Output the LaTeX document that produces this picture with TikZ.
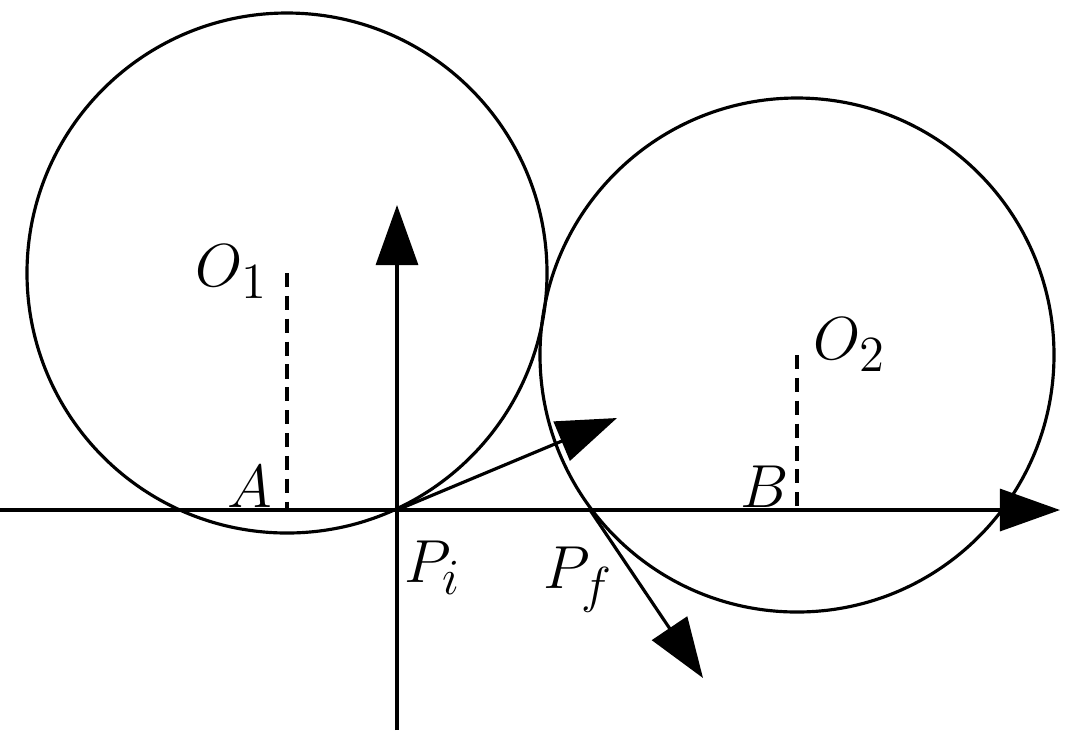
\documentclass[tikz,border=0pt]{standalone}
\usetikzlibrary{arrows.meta}
\tikzset{
  axis/.style={line width=0.9pt,-{Triangle[length=0.6cm,width=0.42cm]}},
  centreline/.style={line width=0.9pt,dash pattern=on 4pt off 2.5pt},
  lbl/.style={font=\fontsize{19}{22}\selectfont}
}
\begin{document}
\begin{tikzpicture}[x=0.01cm,y=-0.01cm]
  \useasboundingbox (0,0) rectangle (1066,744);
  % centres and points
  \coordinate (O1) at (287,273);
  \coordinate (O2) at (797,355);
  \coordinate (A) at (287,510);
  \coordinate (B) at (797,510);
  \coordinate (Pi) at (397,510);
  \coordinate (Pf) at (590,510);
  \coordinate (xl) at (0,510);
  \coordinate (xr) at (1060,510);
  \coordinate (yb) at (397,730);
  \coordinate (yt) at (397,205);
  \coordinate (vi) at (617,418);
  \coordinate (vf) at (703,678);
  % circles
  \draw[line width=0.9pt] (O1) circle (260);
  \draw[line width=0.9pt] (O2) circle (257);
  % axes and velocities
  \draw[axis] (xl) -- (xr);
  \draw[axis] (yb) -- (yt);
  \draw[axis] (Pi) -- (vi);
  \draw[axis] (Pf) -- (vf);
  \draw[centreline] (O1) -- (A);
  \draw[centreline] (O2) -- (B);
  % labels
  \node[lbl] (lO1) at (232,272) {$O_1$};
  \node[lbl] (lO2) at (850,345) {$O_2$};
  \node[lbl] (lA) at (250,487) {$A$};
  \node[lbl] (lB) at (765,487) {$B$};
  \node[lbl] (lPi) at (433,568) {$P_i$};
  \node[lbl] (lPf) at (578,580) {$P_f$};
\end{tikzpicture}
\end{document}
